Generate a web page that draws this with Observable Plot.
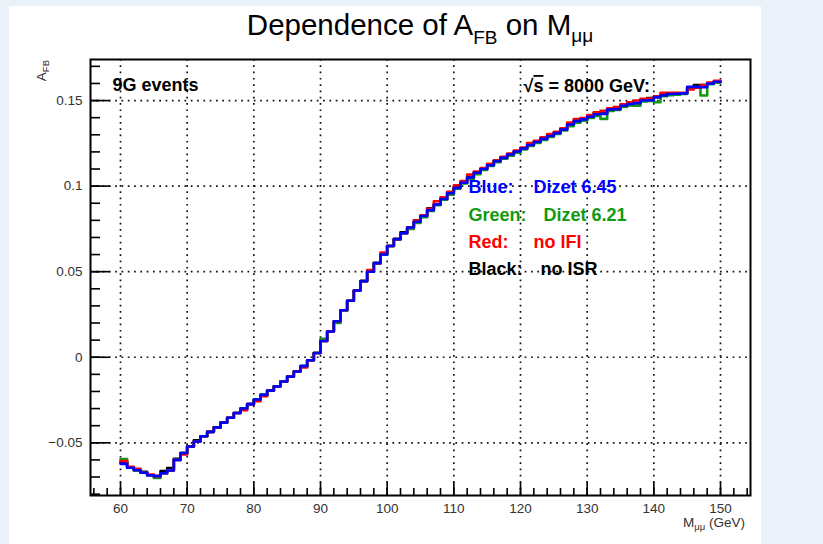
<!DOCTYPE html>
<html><head><meta charset="utf-8">
<script src="https://cdn.jsdelivr.net/npm/d3@7"></script>
<script src="https://cdn.jsdelivr.net/npm/@observablehq/plot@0.6"></script>
<style>
html,body{margin:0;padding:0;}
body{width:823px;height:544px;background:#eaf1f9;position:relative;overflow:hidden;font-family:"Liberation Sans",Arial,sans-serif;}
#panel{position:absolute;left:9px;top:6px;width:752px;height:538px;background:#fff;}
#chart{position:absolute;left:0;top:0;}
</style></head><body>
<div id="panel"></div><div id="chart"></div>
<script>
// ---- data ----
const binLowEdges = [60,61,62,63,64,65,66,67,68,69,70,71,72,73,74,75,76,77,78,79,
  80,81,82,83,84,85,86,87,88,89,90,91,92,93,94,95,96,97,98,99,
  100,101,102,103,104,105,106,107,108,109,110,111,112,113,114,115,116,117,118,119,
  120,121,122,123,124,125,126,127,128,129,130,131,132,133,134,135,136,137,138,139,
  140,141,142,143,144,145,146,147,148,149];
const binWidth = 1;
const afbBlue = [-0.0623,-0.0646,-0.0660,-0.0675,-0.0690,-0.0695,-0.0678,-0.0662,-0.0600,-0.0560,
 -0.0522,-0.0492,-0.0462,-0.0436,-0.0410,-0.0382,-0.0354,-0.0326,-0.0300,-0.0274,
 -0.0247,-0.0220,-0.0195,-0.0170,-0.0142,-0.0113,-0.0083,-0.0052,-0.0018,0.0025,
 0.0095,0.0150,0.0210,0.0275,0.0330,0.0390,0.0445,0.0500,0.0550,0.0600,
 0.0650,0.0690,0.0725,0.0758,0.0792,0.0825,0.0860,0.0893,0.0925,0.0958,
 0.0990,0.1020,0.1050,0.1078,0.1100,0.1122,0.1145,0.1165,0.1185,0.1202,
 0.1220,0.1240,0.1258,0.1276,0.1293,0.1310,0.1330,0.1360,0.1380,0.1390,
 0.1405,0.1420,0.1422,0.1448,0.1450,0.1470,0.1480,0.1485,0.1500,0.1502,
 0.1520,0.1530,0.1538,0.1540,0.1542,0.1580,0.1580,0.1578,0.1600,0.1610];
const afbRed = [-0.0607,-0.0640,-0.0652,-0.0675,-0.0685,-0.0695,-0.0678,-0.0662,-0.0600,-0.0568,
 -0.0522,-0.0492,-0.0462,-0.0436,-0.0410,-0.0382,-0.0354,-0.0326,-0.0310,-0.0274,
 -0.0257,-0.0228,-0.0195,-0.0170,-0.0142,-0.0113,-0.0083,-0.0060,-0.0018,0.0025,
 0.0095,0.0150,0.0210,0.0275,0.0330,0.0390,0.0445,0.0510,0.0550,0.0612,
 0.0650,0.0690,0.0725,0.0758,0.0800,0.0830,0.0868,0.0912,0.0935,0.0965,
 0.1005,0.1030,0.1068,0.1085,0.1105,0.1130,0.1150,0.1172,0.1190,0.1208,
 0.1225,0.1252,0.1265,0.1285,0.1305,0.1318,0.1338,0.1372,0.1392,0.1398,
 0.1415,0.1432,0.1440,0.1455,0.1462,0.1478,0.1490,0.1500,0.1510,0.1512,
 0.1525,0.1545,0.1545,0.1545,0.1545,0.1565,0.1575,0.1590,0.1605,0.1615];
const afbGreen = [-0.0595,-0.0646,-0.0660,-0.0675,-0.0690,-0.0705,-0.0678,-0.0662,-0.0600,-0.0560,
 -0.0522,-0.0492,-0.0462,-0.0436,-0.0410,-0.0382,-0.0354,-0.0326,-0.0300,-0.0274,
 -0.0247,-0.0220,-0.0195,-0.0170,-0.0142,-0.0113,-0.0083,-0.0052,-0.0018,0.0025,
 0.0108,0.0150,0.0200,0.0275,0.0330,0.0390,0.0445,0.0500,0.0550,0.0600,
 0.0650,0.0690,0.0725,0.0750,0.0785,0.0818,0.0855,0.0888,0.0920,0.0950,
 0.0985,0.1015,0.1040,0.1070,0.1095,0.1118,0.1140,0.1160,0.1178,0.1195,
 0.1215,0.1235,0.1252,0.1270,0.1288,0.1305,0.1325,0.1350,0.1370,0.1382,
 0.1398,0.1410,0.1393,0.1440,0.1445,0.1462,0.1472,0.1470,0.1495,0.1498,
 0.1490,0.1525,0.1532,0.1535,0.1538,0.1575,0.1575,0.1530,0.1595,0.1605];
const afbBlack = [-0.0612,-0.0646,-0.0660,-0.0670,-0.0690,-0.0695,-0.0665,-0.0648,-0.0593,-0.0560,
 -0.0522,-0.0485,-0.0462,-0.0436,-0.0410,-0.0382,-0.0354,-0.0326,-0.0300,-0.0274,
 -0.0247,-0.0220,-0.0195,-0.0170,-0.0142,-0.0113,-0.0083,-0.0052,-0.0018,0.0025,
 0.0095,0.0150,0.0210,0.0275,0.0330,0.0390,0.0445,0.0500,0.0550,0.0600,
 0.0650,0.0690,0.0730,0.0758,0.0792,0.0825,0.0870,0.0893,0.0925,0.0965,
 0.0995,0.1020,0.1055,0.1078,0.1100,0.1122,0.1150,0.1165,0.1185,0.1202,
 0.1220,0.1242,0.1258,0.1276,0.1293,0.1310,0.1335,0.1360,0.1385,0.1390,
 0.1405,0.1430,0.1425,0.1448,0.1458,0.1470,0.1475,0.1485,0.1505,0.1515,
 0.1520,0.1532,0.1538,0.1540,0.1542,0.1575,0.1590,0.1590,0.1600,0.1610];

const xTicks = [60,70,80,90,100,110,120,130,140,150];
const xTickLabels = ["60","70","80","90","100","110","120","130","140","150"];
const xMinorTicks = [56,58,60,62,64,66,68,70,72,74,76,78,80,82,84,86,88,90,92,94,96,98,100,
  102,104,106,108,110,112,114,116,118,120,122,124,126,128,130,132,134,136,138,140,142,144,146,148,150,152,154];
const yTicks = [-0.05,0,0.05,0.1,0.15];
const yTickLabels = ["\u22120.05","0","0.05","0.1","0.15"];
const yMinorTicks = [-0.08,-0.07,-0.06,-0.05,-0.04,-0.03,-0.02,-0.01,0,0.01,0.02,0.03,0.04,0.05,0.06,0.07,0.08,
  0.09,0.1,0.11,0.12,0.13,0.14,0.15,0.16,0.17];

const seriesNames = ["Black","Green","Red","Blue"];
const seriesColors = ["#000000","#119911","#ff0000","#0000ff"];
const seriesData = [afbBlack, afbGreen, afbRed, afbBlue];
const legendLabels = ["Blue:","Green:","Red:","Black:"];
const legendValues = ["Dizet 6.45","Dizet 6.21","no IFI","no ISR"];
const legendColors = ["#0000ff","#119911","#ff0000","#000000"];

// ---- layout ----
const W = 823, H = 544, mL = 90, mR = 73, mT = 59, mB = 49;
const fw = W - mL - mR, fh = H - mT - mB;
const FONT = "Liberation Sans, Arial, sans-serif";

function stepPoints(vals){
  const pts = binLowEdges.map((x,i)=>({x, y: vals[i]}));
  pts.push({x: binLowEdges[binLowEdges.length-1] + binWidth, y: vals[vals.length-1]});
  return pts;
}

const marks = [
  Plot.ruleX(xTicks, {stroke:"#111", strokeWidth:1.7, strokeDasharray:"1.7,4.6"}),
  Plot.ruleY(yTicks, {stroke:"#111", strokeWidth:1.7, strokeDasharray:"1.7,4.6"}),
];
seriesData.forEach((vals,i)=>{
  marks.push(Plot.line(stepPoints(vals), {x:"x", y:"y", curve:"step-after", stroke:seriesColors[i], strokeWidth:2.6}));
});
marks.push(
  Plot.ruleX(xTicks, {insetTop: fh-13, stroke:"#000", strokeWidth:1.6}),
  Plot.ruleX(xMinorTicks, {insetTop: fh-7, stroke:"#000", strokeWidth:1.6}),
  Plot.ruleY(yTicks, {insetRight: fw-20, stroke:"#000", strokeWidth:1.6}),
  Plot.ruleY(yMinorTicks, {insetRight: fw-10, stroke:"#000", strokeWidth:1.6}),
  Plot.frame({stroke:"#000", strokeWidth:2}),
  Plot.text(xTicks, {x:d=>d, frameAnchor:"bottom", dy:13, lineAnchor:"middle", text:(d,i)=>xTickLabels[i], fontSize:13.5, fill:"#333"}),
  Plot.text(yTicks, {y:d=>d, frameAnchor:"left", dx:-8, textAnchor:"end", text:(d,i)=>yTickLabels[i], fontSize:13.5, fill:"#333"}),
  Plot.text(["9G events"], {frameAnchor:"top-left", dx:22, dy:26, textAnchor:"start", lineAnchor:"middle", fontSize:18, fontWeight:"bold", fill:"#000"}),
);
legendLabels.forEach((lab,i)=>{
  marks.push(Plot.text([lab], {frameAnchor:"top-left", dx:378, dy:128+i*27.4, textAnchor:"start", lineAnchor:"middle", fontSize:18, fontWeight:"bold", fill:legendColors[i]}));
  marks.push(Plot.text([legendValues[i]], {frameAnchor:"top-left", dx:[443,453,443,450][i], dy:128+i*27.4, textAnchor:"start", lineAnchor:"middle", fontSize:18, fontWeight:"bold", fill:legendColors[i]}));
});

const plot = Plot.plot({
  width: W, height: H,
  marginLeft: mL, marginRight: mR, marginTop: mT, marginBottom: mB,
  x: {domain:[55.5,154.5], axis:null},
  y: {domain:[-0.0808,0.174], axis:null},
  style: {background:"transparent", fontFamily: FONT, overflow:"visible"},
  marks
});
document.getElementById("chart").appendChild(plot);

// ---- text with sub/superscripts ----
const svg = d3.select(plot);
const title = svg.append("text").attr("x", 420).attr("y", 35).attr("text-anchor","middle")
  .attr("font-family", FONT).attr("font-size", 29.5).attr("fill","#000");
title.append("tspan").text("Dependence of A");
title.append("tspan").attr("font-size",19).attr("dy",9).text("FB");
title.append("tspan").attr("dy",-9).text(" on M");
title.append("tspan").attr("font-size",19).attr("dy",7).text("\u03bc\u03bc");

const sq = svg.append("text").attr("x", 650).attr("y", 92).attr("text-anchor","end")
  .attr("font-family", FONT).attr("font-size", 18).attr("font-weight","bold").attr("fill","#000");
sq.append("tspan").text("\u221a");
sq.append("tspan").attr("text-decoration","overline").text("s");
sq.append("tspan").text(" = 8000 GeV:");

const xl = svg.append("text").attr("x", 745).attr("y", 527).attr("text-anchor","end")
  .attr("font-family", FONT).attr("font-size", 13.5).attr("fill","#333");
xl.append("tspan").text("M");
xl.append("tspan").attr("font-size",9.5).attr("dy",3).text("\u03bc\u03bc");
xl.append("tspan").attr("dy",-3).text(" (GeV)");

const yl = svg.append("text").attr("transform","translate(46,60) rotate(-90)").attr("text-anchor","end")
  .attr("font-family", FONT).attr("font-size", 13.5).attr("fill","#333");
yl.append("tspan").text("A");
yl.append("tspan").attr("font-size",9.5).attr("dy",3).text("FB");
</script>
</body></html>
